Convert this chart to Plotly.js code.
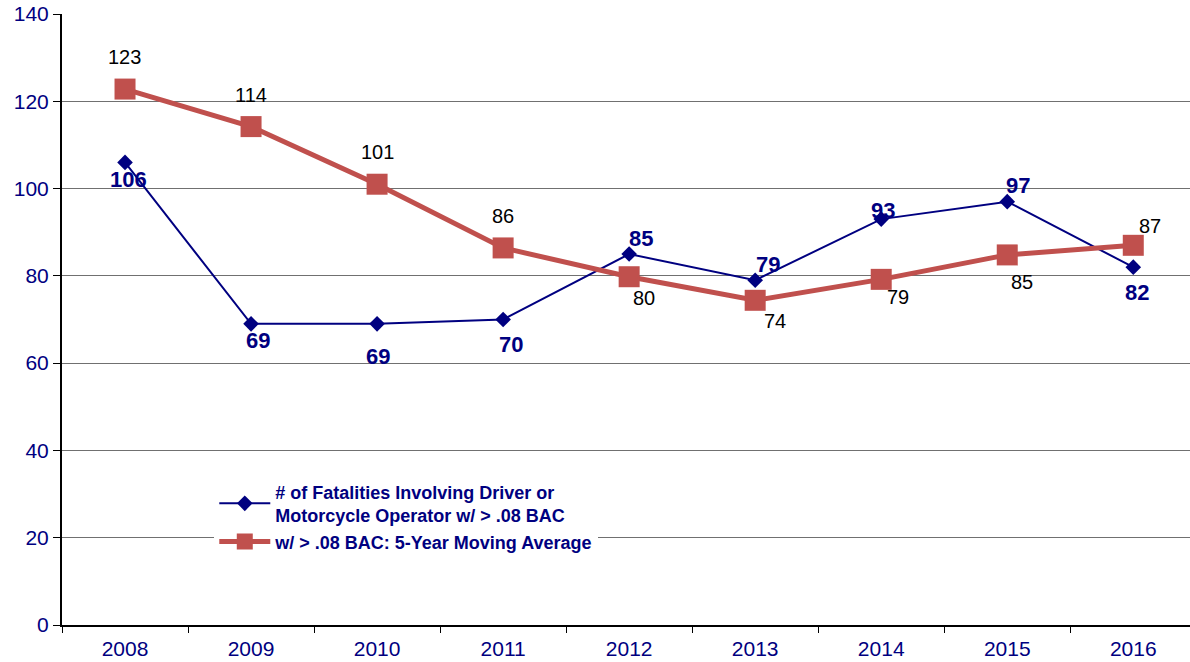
<!DOCTYPE html>
<html>
<head>
<meta charset="utf-8">
<script src="https://cdn.plot.ly/plotly-3.0.1.min.js"></script>
<style>html,body{margin:0;padding:0;background:#fff;}#chart{width:1190px;height:662px;}</style>
</head>
<body>
<div id="chart"></div>
<script>
const years = ["2008","2009","2010","2011","2012","2013","2014","2015","2016"];
const fatalities = [106, 69, 69, 70, 85, 79, 93, 97, 82];
const movingAvg = [122.8, 114.2, 101.0, 86.4, 79.8, 74.4, 79.2, 84.8, 87.0];
const seriesNames = [
  "# of Fatalities Involving Driver or<br>Motorcycle Operator w/ > .08 BAC",
  "w/ > .08 BAC: 5-Year Moving Average"
];

// label offsets (pixels) - styling only
const fatalShift = [[3,-17],[7,-17],[1,-33],[8,-25],[12,16],[13,16],[2,9],[11,16],[4,-25]];
const avgShift = [[-1,32],[0,32],[0,32],[0,32],[15,-21],[20,-21],[17,-18],[15,-27],[17,19]];

const navy = "#000080";
const red = "#C0504D";
const fam = "Liberation Sans, Arial, sans-serif";

const annotations = [];
for (let i = 0; i < years.length; i++) {
  annotations.push({
    x: i, y: fatalities[i], xref: "x", yref: "y",
    text: "<b>" + Math.round(fatalities[i]) + "</b>", showarrow: false,
    xanchor: "center", yanchor: "middle",
    xshift: fatalShift[i][0], yshift: fatalShift[i][1],
    font: {family: fam, size: 22, color: navy}
  });
  annotations.push({
    x: i, y: movingAvg[i], xref: "x", yref: "y",
    text: String(Math.round(movingAvg[i])), showarrow: false,
    xanchor: "center", yanchor: "middle",
    xshift: avgShift[i][0], yshift: avgShift[i][1],
    font: {family: fam, size: 20, color: "#000000"}
  });
}

const traces = [
  {
    x: years, y: fatalities, type: "scatter", mode: "lines+markers",
    name: seriesNames[0],
    line: {color: navy, width: 2},
    marker: {symbol: "diamond", size: 12, color: navy}
  },
  {
    x: years, y: movingAvg, type: "scatter", mode: "lines+markers",
    name: seriesNames[1],
    line: {color: red, width: 5},
    marker: {symbol: "square", size: 21, color: red}
  }
];

const layout = {
  width: 1190, height: 662,
  margin: {l: 62, r: 0, t: 14, b: 37},
  paper_bgcolor: "#fff", plot_bgcolor: "#fff",
  font: {family: fam, color: navy},
  showlegend: true,
  legend: {
    x: 0.135, y: 0.248, xanchor: "left", yanchor: "top",
    bgcolor: "#fff", borderwidth: 0,
    itemwidth: 51,
    font: {family: fam, size: 18, color: navy, weight: "bold"},
    tracegroupgap: 0
  },
  xaxis: {
    type: "category",
    range: [-0.5, 8.45],
    showgrid: false,
    showline: true, linecolor: "#000", linewidth: 2,
    ticks: "outside", ticklen: 6, tickcolor: "#000", tickwidth: 1,
    tickson: "boundaries",
    tickfont: {size: 21, color: navy},
    ticklabelstandoff: 4,
    zeroline: false,
    fixedrange: true
  },
  yaxis: {
    range: [0, 140],
    dtick: 20,
    showgrid: true, gridcolor: "#707070", gridwidth: 1,
    showline: true, linecolor: "#000", linewidth: 2,
    ticks: "outside", ticklen: 7, tickcolor: "#000",
    tickfont: {size: 21, color: navy},
    zeroline: false,
    fixedrange: true
  },
  annotations: annotations
};

Plotly.newPlot("chart", traces, layout, {staticPlot: true, displayModeBar: false});
</script>
</body>
</html>
